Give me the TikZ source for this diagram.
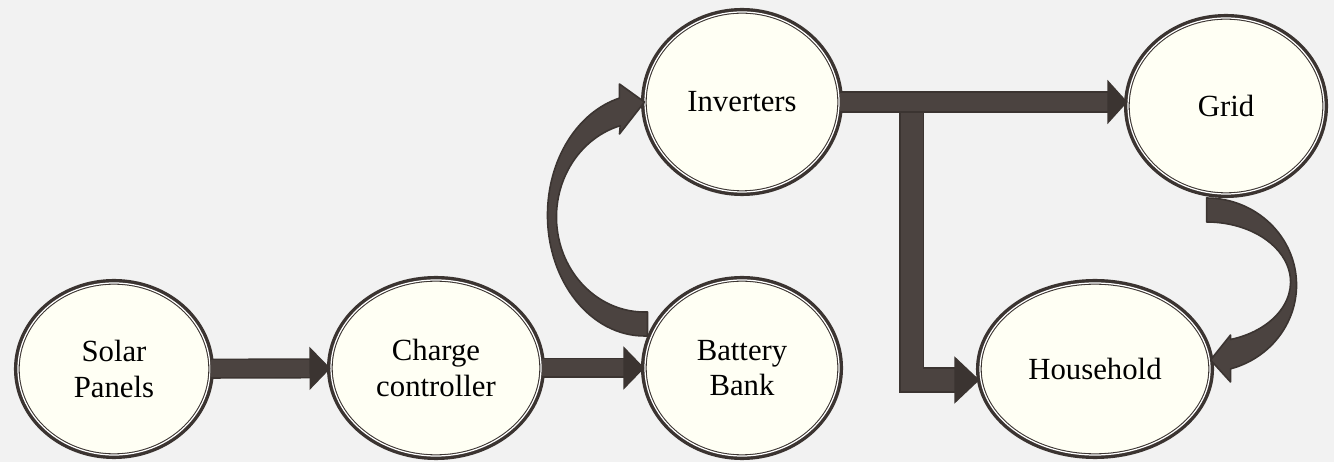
\documentclass[tikz,border=0pt]{standalone}
\usepackage{fontspec}
\setmainfont{Liberation Serif}
\usetikzlibrary{shapes.geometric,arrows.meta,calc}

\definecolor{paper}{HTML}{F2F2F2}
\definecolor{cream}{HTML}{FFFFF4}
\definecolor{rim}{HTML}{3B3431}
\definecolor{pipe}{HTML}{4B4340}

\begin{document}
\begin{tikzpicture}[
    stage/.style={ellipse, preaction={draw=rim, line width=4.6pt},
        draw=rim, line width=0.6pt, double=white, double distance=0.7pt,
        fill=cream, inner sep=0pt, align=center, font=\fontsize{17.5}{20}\selectfont},
    flow/.style={draw=rim, line width=0.9pt, double=pipe, double distance=0.34cm,
        -{Triangle[width=0.86cm,length=0.42cm]}},
    curvedflow/.style={fill=pipe, draw=rim, line width=0.9pt, line join=round}
]
    % 背景（余白も含めて）
    \fill[paper] (0,0) rectangle (26.68,9.24);

    % 楕円の各ブロック
    \node[stage, minimum width=3.84cm, minimum height=3.44cm] (solar) at (2.28,1.86) {Solar\\Panels};
    \node[stage, minimum width=4.20cm, minimum height=3.52cm] (charge) at (8.72,1.88) {Charge\\controller};
    \node[stage, minimum width=3.88cm, minimum height=3.52cm] (bat) at (14.84,1.88) {Battery\\Bank};
    \node[stage, minimum width=3.88cm, minimum height=3.60cm] (inv) at (14.84,7.20) {Inverters};
    \node[stage, minimum width=3.92cm, minimum height=3.52cm] (grid) at (24.52,7.12) {Grid};
    \node[stage, minimum width=4.60cm, minimum height=3.44cm] (house) at (21.90,1.86) {Household};

    % まっすぐな矢印
    \draw[flow] (solar) -- (charge);
    \draw[flow] (charge) -- (bat);

    % 分岐して家庭へ（横の矢印より先に描く）
    \coordinate (split) at ($(inv.east)!0.25!(inv.east -| grid.west)$);
    \draw[flow, double distance=0.44cm, -{Triangle[width=0.94cm,length=0.5cm]}]
        (split) |- ($(house.west)+(0,-0.22)$);
    \draw[flow, double distance=0.36cm, -{Triangle[width=0.88cm,length=0.4cm]}]
        (inv.east) -- (inv.east -| grid.west);

    % 曲がった矢印（バッテリー → インバータ）
    \begin{scope}[shift={(inv.west)}]
        \filldraw[curvedflow] (0,0) -- (-0.50,-0.64) -- (-0.485,-0.474)
            arc[start angle=106, end angle=270, x radius=1.76, y radius=1.90]
            -- (0.06,-4.20) -- (0.06,-4.68) -- (0,-4.68)
            arc[start angle=270, end angle=105, x radius=1.94, y radius=2.42]
            -- (-0.50,0.36) -- cycle;
    \end{scope}

    % 曲がった矢印（グリッド → 家庭）
    \begin{scope}[shift={($(house.east)+(0,0.18)$)}]
        \filldraw[curvedflow] (0,0) -- (0.40,0.50) -- (0.40,0.41)
            arc[start angle=-73.4, end angle=90, x radius=1.68, y radius=1.20]
            -- (-0.08,3.24)
            arc[start angle=90, end angle=-74.5, x radius=1.80, y radius=1.74]
            -- (0.40,-0.44) -- cycle;
    \end{scope}
\end{tikzpicture}
\end{document}
